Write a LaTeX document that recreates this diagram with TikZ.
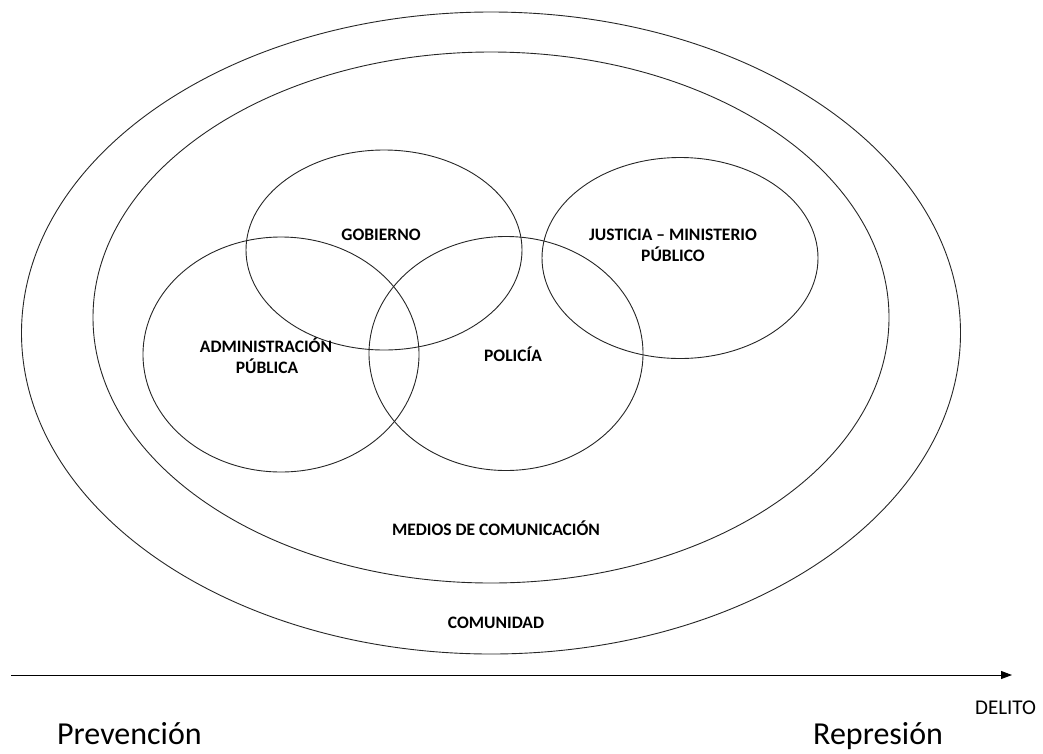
\documentclass[tikz,border=0pt]{standalone}
\usepackage{fontspec}
\setmainfont{Carlito}
\usetikzlibrary{shapes.geometric,arrows.meta}
\tikzset{
  ring/.style={ellipse, draw=black!85, line width=0.9pt, inner sep=0pt, fill=none},
  lab/.style={anchor=base, inner sep=0pt, font=\fontsize{17.5}{21}\selectfont\bfseries},
  big/.style={anchor=base west, inner sep=0pt, font=\fontsize{32}{36}\selectfont},
  small/.style={anchor=base west, inner sep=0pt, font=\fontsize{21}{24}\selectfont},
  axis/.style={line width=1pt, -{Triangle[length=11pt,width=8pt]}}
}
\begin{document}
\begin{tikzpicture}[x=1pt,y=-1pt]
\useasboundingbox (0,0) rectangle (1043,753);
% rings
\node[ring, minimum width=939pt, minimum height=642pt] (comunidad) at (491,333) {};
\node[ring, minimum width=796pt, minimum height=531pt] (medios) at (491,317.5) {};
\node[ring, minimum width=276pt, minimum height=200pt] (gobierno) at (384,250) {};
\node[ring, minimum width=276pt, minimum height=201pt] (justicia) at (680,258) {};
\node[ring, minimum width=276pt, minimum height=235pt] (admin) at (281,354.5) {};
\node[ring, minimum width=274pt, minimum height=234pt] (policia) at (506,353.5) {};
% labels
\node[lab] (tgob) at (381,240.5) {GOBIERNO};
\node[lab] (tjus1) at (673,240.5) {JUSTICIA – MINISTERIO};
\node[lab] (tjus2) at (673,261.5) {PÚBLICO};
\node[lab] (tadm1) at (266,352.5) {ADMINISTRACIÓN};
\node[lab] (tadm2) at (267,373.5) {PÚBLICA};
\node[lab] (tpol) at (513,361.5) {POLICÍA};
\node[lab] (tmed) at (496,535.5) {MEDIOS DE COMUNICACIÓN};
\node[lab] (tcom) at (496,628.5) {COMUNIDAD};
% axis
\coordinate (a0) at (11,675);
\coordinate (a1) at (1012,675);
\draw[axis] (a0) -- (a1);
\node[small] (delito) at (975,714) {DELITO};
\node[big] (prev) at (57,744) {Prevención};
\node[big] (repr) at (813,744) {Represión};
\end{tikzpicture}
\end{document}
